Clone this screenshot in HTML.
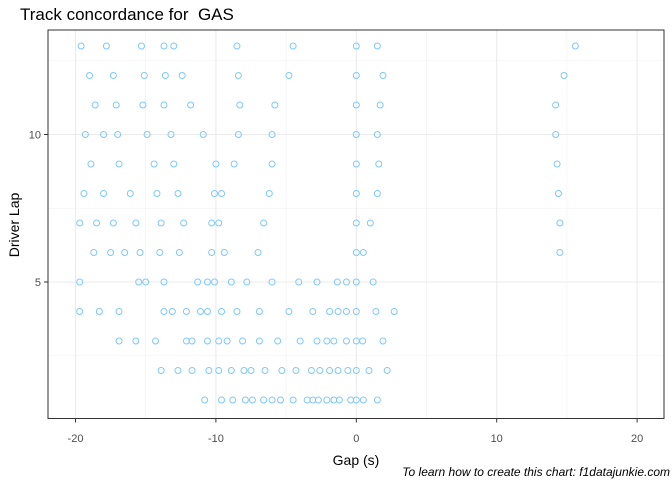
<!DOCTYPE html>
<html><head><meta charset="utf-8"><style>
body{margin:0;background:#fff;font-family:"Liberation Sans",sans-serif;}
svg text{font-family:"Liberation Sans",sans-serif;}
</style></head><body>
<svg width="672" height="480" viewBox="0 0 672 480">
<text x="20" y="20" font-size="17" fill="#000">Track concordance for &#160;GAS</text>
<g id="grid"></g>
<g id="pts"></g>
<rect x="48" y="30" width="616" height="388.5" fill="none" stroke="#333" stroke-width="1"/>
<g id="axes"></g>
<text x="356" y="465" font-size="14" text-anchor="middle">Gap (s)</text>
<text transform="translate(19,225) rotate(-90)" font-size="14" text-anchor="middle">Driver Lap</text>
<text x="670" y="476" font-size="12" font-style="italic" text-anchor="end">To learn how to create this chart: f1datajunkie.com</text>
</svg>
<script>
const laps=[1,2,3,4,5,6,7,8,9,10,11,12,13];
const gaps=[
[-10.8,-9.6,-8.8,-7.9,-7.4,-6.6,-6.0,-5.4,-4.5,-3.5,-3.1,-2.7,-2.1,-1.6,-1.2,-0.4,0,0.5,1.5],
[-13.9,-12.7,-11.7,-10.5,-9.8,-8.9,-8.0,-7.5,-6.5,-5.3,-4.3,-3.2,-2.6,-1.9,-1.3,-0.6,0,0.9,2.2],
[-16.9,-15.7,-14.3,-12.1,-11.7,-10.6,-9.8,-9.2,-8.1,-6.9,-5.6,-4.0,-2.8,-2.1,-1.6,-0.7,0,0.45,1.9],
[-19.7,-18.3,-16.9,-13.7,-13.1,-12.1,-11.1,-10.6,-9.6,-8.5,-6.9,-4.8,-3.1,-1.9,-1.3,-0.7,0,1.4,2.7],
[-19.7,-15.5,-15.0,-13.7,-11.3,-10.6,-10.1,-8.9,-7.8,-6.0,-4.1,-2.8,-1.35,-0.7,0,1.2],
[-18.7,-17.5,-16.5,-15.4,-14.0,-12.6,-10.3,-9.4,-7.0,0,0.5,14.5],
[-19.7,-18.5,-17.3,-15.7,-13.9,-12.3,-10.3,-9.8,-6.6,0,1.0,14.5],
[-19.4,-18.0,-16.1,-14.2,-12.7,-10.1,-9.6,-6.2,0,1.5,14.4],
[-18.9,-16.9,-14.4,-13.0,-10.0,-8.7,-6.0,0,1.6,14.3],
[-19.3,-18.0,-17.0,-14.9,-13.2,-10.9,-8.4,-6.0,0,1.5,14.2],
[-18.6,-17.1,-15.2,-13.7,-11.8,-8.3,-5.8,0,1.7,14.2],
[-19.0,-17.3,-15.1,-13.6,-12.4,-8.4,-4.8,0,1.9,14.8],
[-19.6,-17.8,-15.3,-13.7,-13.0,-8.5,-4.5,0,1.5,15.6]
];
const xTicks=[-20,-10,0,10,20];
const xMinor=[-15,-5,5,15];
const yTicks=[5,10];
const yMinor=[2.5,7.5,12.5];
const NS="http://www.w3.org/2000/svg";
const X=v=>356.3+v*14.04;
const Y=l=>400-(l-1)*29.5;
function mk(t,a,p){const e=document.createElementNS(NS,t);for(const k in a)e.setAttribute(k,a[k]);p.appendChild(e);return e;}
const grid=document.getElementById('grid'),axes=document.getElementById('axes'),pts=document.getElementById('pts');
xMinor.forEach(v=>{const l=mk('line',{x1:X(v),x2:X(v),y1:30,y2:418.5,stroke:'#f0f0f0','stroke-width':0.6},grid);

});
yMinor.forEach(v=>{const l=mk('line',{x1:48,x2:664,y1:Y(v),y2:Y(v),stroke:'#f0f0f0','stroke-width':0.6},grid);

});
xTicks.forEach(v=>{const l=mk('line',{x1:X(v),x2:X(v),y1:30,y2:418.5,stroke:'#ebebeb','stroke-width':1.1},grid);


const t=mk('line',{x1:X(v),x2:X(v),y1:418.5,y2:422.5,stroke:'#333'},axes);


const tx=mk('text',{x:X(v),y:442,'font-size':11,'text-anchor':'middle',fill:'#4d4d4d'},axes);tx.textContent=v;

});
yTicks.forEach(v=>{const l=mk('line',{x1:48,x2:664,y1:Y(v),y2:Y(v),stroke:'#ebebeb','stroke-width':1.1},grid);


const t=mk('line',{x1:44,x2:48,y1:Y(v),y2:Y(v),stroke:'#333'},axes);


const tx=mk('text',{x:41,y:Y(v)+4,'font-size':11,'text-anchor':'end',fill:'#4d4d4d'},axes);tx.textContent=v;

});
laps.forEach((lap,i)=>gaps[i].forEach(g=>{const c=mk('circle',{cx:X(g),cy:Y(lap),r:3,fill:'none',stroke:'#7ec8ff','stroke-width':1},pts);

}));
</script>
</body></html>
